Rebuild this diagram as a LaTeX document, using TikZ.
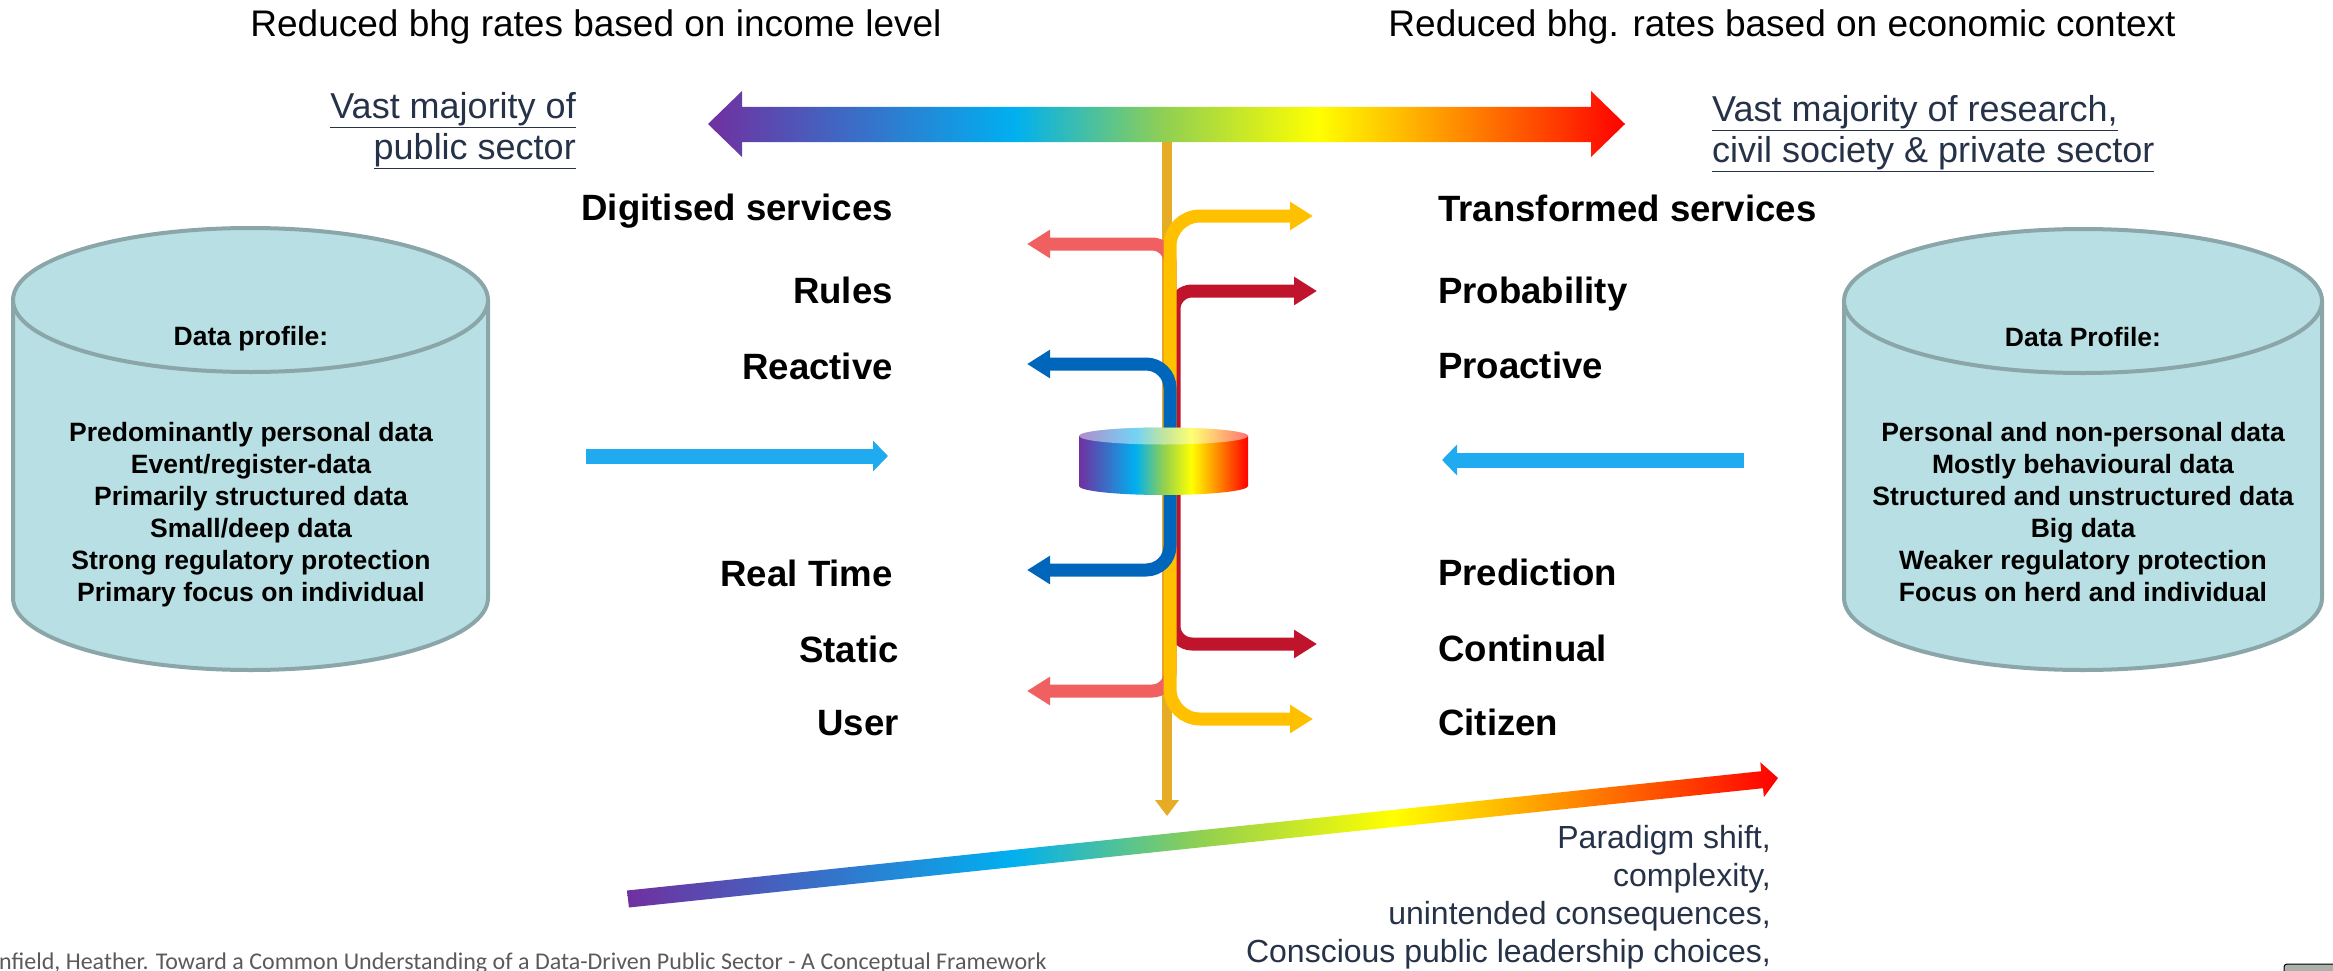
\documentclass[tikz,border=0pt]{standalone}
\usepackage{fontspec}
\setmainfont{Liberation Sans}
\newfontfamily\citefont{Carlito}
\usetikzlibrary{
  arrows.meta,
  positioning,  % Function "of"
  calc,         % Calculations $...$
}
% Colours
\definecolor{rbpurple}{RGB}{112,48,160}
\definecolor{rbcyan}{RGB}{0,176,240}
\definecolor{rbgreen}{RGB}{146,208,80}
\definecolor{rbyellow}{RGB}{255,255,0}
\definecolor{rborange}{RGB}{255,192,0}
\definecolor{rbred}{RGB}{255,0,0}
\definecolor{drumfill}{RGB}{184,223,227}
\definecolor{drumline}{RGB}{139,166,168}
\definecolor{navytext}{RGB}{38,50,72}
\definecolor{axisorange}{RGB}{230,172,38}
\definecolor{pipeyellow}{RGB}{255,192,0}
\definecolor{pipered}{RGB}{192,20,45}
\definecolor{pipesalmon}{RGB}{240,96,96}
\definecolor{pipeblue}{RGB}{0,102,187}
\definecolor{feedblue}{RGB}{32,170,240}
\definecolor{citegray}{RGB}{90,90,90}
\definecolor{iconfill}{RGB}{170,176,170}
\pgfdeclarehorizontalshading{rainbow}{100bp}{%
  color(0bp)=(rbpurple); color(25bp)=(rbpurple);
  color(41.75bp)=(rbcyan); color(50bp)=(rbgreen);
  color(58.25bp)=(rbyellow); color(62.5bp)=(rborange);
  color(75bp)=(rbred); color(100bp)=(rbred)}
\newcommand{\labsize}{\fontsize{36.6}{44}\selectfont}
\newcommand{\drumsize}{\fontsize{26.5}{32}\selectfont}
\tikzset{
  inner sep=0pt,
  head/.style={
    font=\fontsize{37}{44}\selectfont,
    anchor=base
  },
  sector/.style={
    font=\fontsize{36}{41}\selectfont,
    text=navytext
  },
  shift text/.style={
    font=\fontsize{32}{37.7}\selectfont,
    text=navytext,
    align=right,
    anchor=base east
  },
  lab left/.style={
    font=\labsize\bfseries,
    anchor=base east
  },
  lab right/.style={
    font=\labsize\bfseries,
    anchor=base west
  },
  drum/.style={
    fill=drumfill,
    draw=drumline,
    line width=4pt
  },
  drum text/.style={
    font=\drumsize\bfseries,
    align=center,
    anchor=base
  },
  axis/.style={
    draw=axisorange,
    line width=10pt,
    -{Triangle[length=16pt,width=23pt]}
  },
  pipe/.style={
    line width=13pt,
    rounded corners=#1,
    >={Triangle[length=23pt,width=27pt]},
    <->
  },
  feed/.style={
    draw=feedblue,
    line width=15pt,
    -{Triangle[length=15pt,width=30pt]}
  },
  cite/.style={
    font=\citefont\fontsize{24}{28}\selectfont,
    text=citegray,
    anchor=base west
  }
}

\begin{document}
\begin{tikzpicture}[x=1pt,y=-1pt]
\useasboundingbox (0,0) rectangle (2333,971);
\clip (0,0) rectangle (2333,971);
% Headings
\node[head] (income)  at (596,37)  {Reduced bhg rates based on income level};
\node[head] (context) at (1782,37) {Reduced bhg. rates based on economic context};
% Central axis
\coordinate (axtop) at (1167,124);
\coordinate (axbot) at (1167,816);
\draw[axis] (axtop) -- (axbot);
% Top rainbow arrow
\shade[shading=rainbow] (708,124) -- (742,91) -- (742,107) -- (1591,107)
  -- (1591,91) -- (1625,124) -- (1591,157) -- (1591,142) -- (742,142)
  -- (742,157) -- cycle;
% (multi-line nodes sit on the baseline of their last line)
\node[sector,align=right,anchor=base east] (public) at (576,159)
  {\underline{Vast majority of}\\\underline{public sector}};
\node[sector,align=left,anchor=base west] (research) at (1712,162)
  {\underline{Vast majority of research,}\\\underline{civil society \& private sector}};
% Labels left
\node[lab left] (digit)    at (893,220) {Digitised services};
\node[lab left] (rules)    at (893,303) {Rules};
\node[lab left] (reactive) at (893,379) {Reactive};
\node[lab left] (realtime) at (893,586) {Real Time};
\node[lab left] (static)   at (899,662) {Static};
\node[lab left] (user)     at (899,735) {User};
% Labels right
\node[lab right] (transf)  at (1438,221) {Transformed services};
\node[lab right] (prob)    at (1438,303) {Probability};
\node[lab right] (proact)  at (1438,378) {Proactive};
\node[lab right] (predict) at (1438,585) {Prediction};
\node[lab right] (contin)  at (1438,661) {Continual};
\node[lab right] (citizen) at (1438,735) {Citizen};
% Pipe ends
\coordinate (saltop) at (1027,244);  \coordinate (salbot) at (1027,691);
\coordinate (redtop) at (1317,291);  \coordinate (redbot) at (1317,644);
\coordinate (yeltop) at (1313,216);  \coordinate (yelbot) at (1313,719);
\coordinate (blutop) at (1027,364);  \coordinate (blubot) at (1027,570);
% Pipes, back to front
\draw[pipe=18pt,draw=pipesalmon] (saltop) -- (1170,244) -- (1170,691) -- (salbot);
\draw[pipe=18pt,draw=pipered]    (redtop) -- (1174,291) -- (1174,644) -- (redbot);
\draw[pipe=30pt,draw=pipeyellow] (yeltop) -- (1170,216) -- (1170,719) -- (yelbot);
\draw[pipe=24pt,draw=pipeblue]   (blutop) -- (1170,364) -- (1170,570) -- (blubot);
% Middle drum
\shade[shading=rainbow] (1079,436) -- (1079,486)
  arc[start angle=180,end angle=0,x radius=84.5,y radius=9] -- (1248,436) -- cycle;
\shade[shading=rainbow] (1163.5,436) ellipse[x radius=84.5,y radius=8.5];
\fill[white,opacity=.45] (1163.5,436) ellipse[x radius=84.5,y radius=8.5];
% Left drum
\filldraw[drum] (13,300) -- (13,598)
  arc[start angle=180,end angle=0,x radius=237.5,y radius=72] -- (488,300);
\filldraw[drum] (250.5,300) ellipse[x radius=237.5,y radius=72];
\node[drum text] (lprofile) at (251,345) {Data profile:};
\node[drum text] (ldata) at (251,601) {Predominantly personal data\\Event/register-data\\
  Primarily structured data\\Small/deep data\\Strong regulatory protection\\
  Primary focus on individual};
% Right drum
\filldraw[drum] (1844,301) -- (1844,598)
  arc[start angle=180,end angle=0,x radius=239,y radius=72] -- (2322,301);
\filldraw[drum] (2083,301) ellipse[x radius=239,y radius=72];
\node[drum text] (rprofile) at (2083,346) {Data Profile:};
\node[drum text] (rdata) at (2083,601) {Personal and non-personal data\\Mostly behavioural data\\
  Structured and unstructured data\\Big data\\Weaker regulatory protection\\
  Focus on herd and individual};
% Feed arrows
\coordinate (lfeedA) at (586,456);  \coordinate (lfeedB) at (888,456);
\coordinate (rfeedA) at (1744,460); \coordinate (rfeedB) at (1442,460);
\draw[feed] (lfeedA) -- (lfeedB);
\draw[feed] (rfeedA) -- (rfeedB);
% Bottom rainbow arrow
\shade[shading=rainbow] (627.1,890.5) -- (1761.2,771.2) -- (1760.3,762.3)
  -- (1778,778) -- (1763.9,797.1) -- (1763.0,788.2) -- (628.9,907.5) -- cycle;
\node[shift text] (shift) at (1771,962) {Paradigm shift,\\complexity,\\
  unintended consequences,\\Conscious public leadership choices,};
% Source line
\node[cite] (source) at (-1,969) {nfield, Heather. Toward a Common Understanding of a Data-Driven Public Sector - A Conceptual Framework};
\draw[fill=iconfill,rounded corners=3pt,line width=1pt] (2284,964) rectangle (2345,1000);
\end{tikzpicture}
\end{document}
